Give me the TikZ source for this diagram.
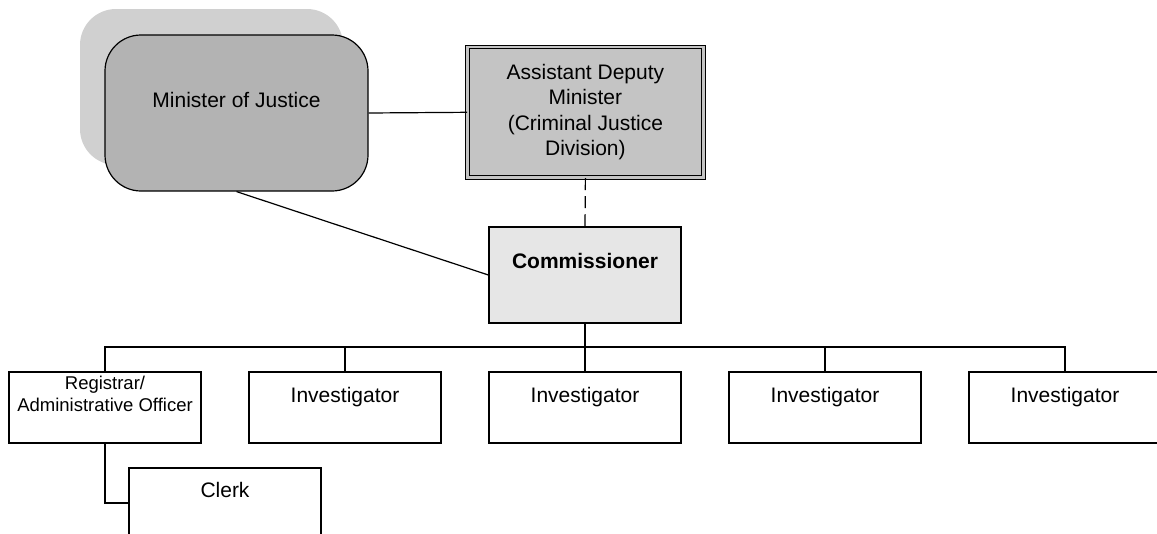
\documentclass[tikz,border=0pt]{standalone}
\usepackage{fontspec}
\setmainfont{Liberation Sans}
\definecolor{shadowgray}{HTML}{D0D0D0}
\definecolor{mingray}{HTML}{B3B3B3}
\definecolor{admgray}{HTML}{C4C4C4}
\definecolor{comgray}{HTML}{E6E6E6}
\begin{document}
\begin{tikzpicture}[x=1pt,y=-1pt,
  box/.style={draw=black, line width=1.2pt, inner sep=0pt, fill=white,
    minimum width=192pt, minimum height=71pt},
  txt/.style={inner sep=0pt, anchor=base, font=\fontsize{21pt}{25.5pt}\selectfont},
  smalltxt/.style={inner sep=0pt, anchor=base, font=\fontsize{18.5pt}{22pt}\selectfont},
  conn/.style={draw=black, line width=1.2pt},
  dashconn/.style={draw=black, line width=1.2pt, dash pattern=on 12pt off 6pt}]
\useasboundingbox (0,0) rectangle (1157,533);
\clip (0,0) rectangle (1157,533);
% Minister of Justice with shadow
\node[fill=shadowgray, rounded corners=36pt, inner sep=0pt,
  minimum width=263pt, minimum height=156pt] (minshadow) at (211.5,87) {};
\node[draw=black, line width=1.2pt, fill=mingray, rounded corners=36pt, inner sep=0pt,
  minimum width=263pt, minimum height=156pt] (min) at (236.5,113) {};
\node[txt] (mintxt) at (236.5,107) {Minister of Justice};
% Assistant Deputy Minister
\node[draw=black, line width=1.1pt, double=admgray, double distance=2.6pt, fill=admgray,
  inner sep=0pt, minimum width=235.7pt, minimum height=130.5pt, align=center,
  font=\fontsize{21pt}{25.5pt}\selectfont] (adm) at (585.4,112.3)
  {Assistant Deputy\\Minister\\(Criminal Justice\\Division)};
% Commissioner
\node[box, fill=comgray, minimum height=96pt] (com) at (585,275) {};
\node[txt, font=\fontsize{21pt}{25.5pt}\selectfont\bfseries] (comtxt) at (585,268) {Commissioner};
% Bottom row
\node[box] (reg) at (105,407.5) {};
\node[smalltxt] (regtxta) at (105,389) {Registrar/};
\node[smalltxt] (regtxtb) at (105,411) {Administrative Officer};
\node[box] (inv1) at (345,407.5) {};
\node[txt] (inv1txt) at (345,402) {Investigator};
\node[box] (inv2) at (585,407.5) {};
\node[txt] (inv2txt) at (585,402) {Investigator};
\node[box] (inv3) at (825,407.5) {};
\node[txt] (inv3txt) at (825,402) {Investigator};
\node[box] (inv4) at (1065,407.5) {};
\node[txt] (inv4txt) at (1065,402) {Investigator};
% Clerk
\node[box, minimum height=120pt] (clerk) at (225,528) {};
\node[txt] (clerktxt) at (225,497) {Clerk};
% Connectors
\coordinate (bus) at (585,347);
\coordinate (clerkin) at (129,503);
\draw[conn] (min.east) -- (adm.west);
\draw[conn] (min.south) -- (com.west);
\draw[dashconn] (adm.south) -- (com.north);
\draw[conn] (com.south) -- (bus);
\draw[conn] (reg.north) |- (bus) -| (inv4.north);
\draw[conn] (inv1.north) -- (inv1.north |- bus);
\draw[conn] (inv2.north) -- (inv2.north |- bus);
\draw[conn] (inv3.north) -- (inv3.north |- bus);
\draw[conn] (reg.south) |- (clerkin);
\end{tikzpicture}
\end{document}
